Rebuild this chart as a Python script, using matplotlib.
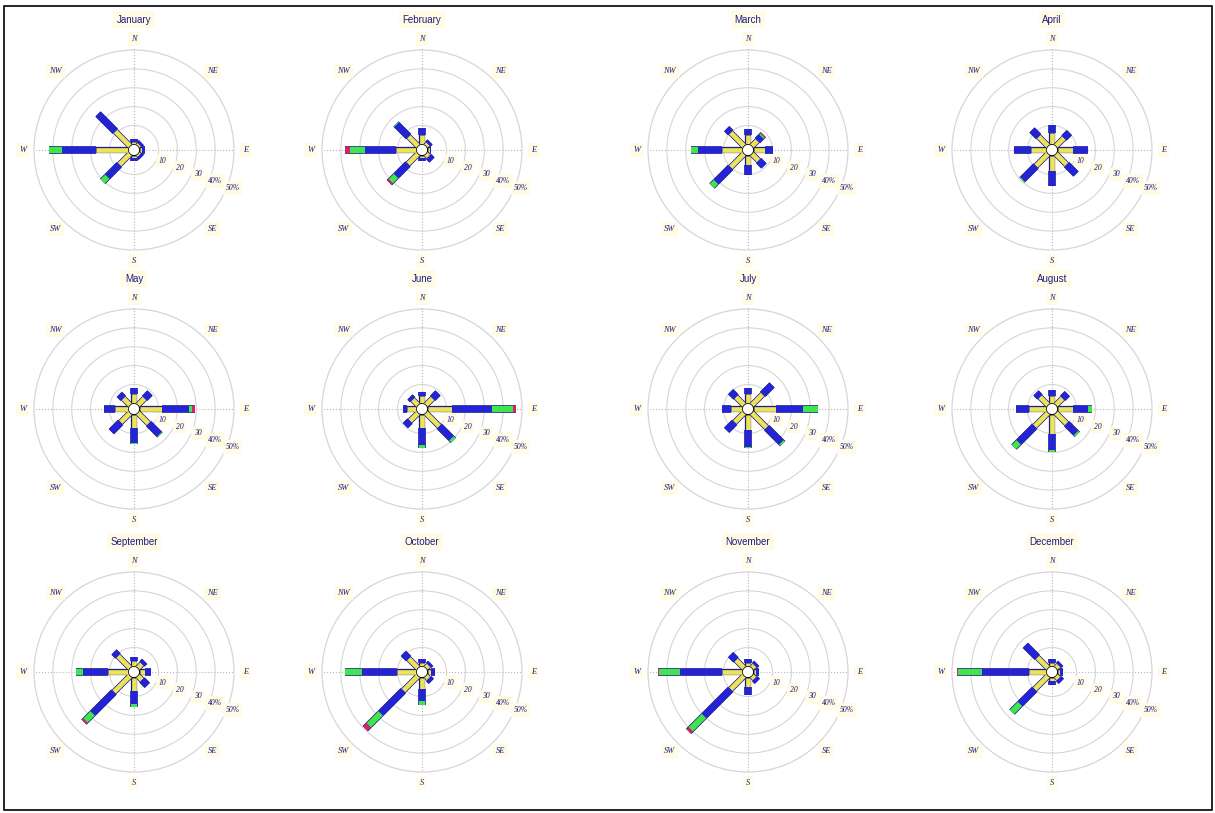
import numpy as np
import matplotlib.pyplot as plt
import matplotlib.patheffects as pe
from matplotlib.patches import Rectangle

months = ['January', 'February', 'March', 'April', 'May', 'June',
          'July', 'August', 'September', 'October', 'November', 'December']
dirs = ['N', 'NE', 'E', 'SE', 'S', 'SW', 'W', 'NW']
ring_vals = [10, 20, 30, 40, 50]
ring_labels = ['10', '20', '30', '40%', '50%']

# percent frequency per speed class, one row per month, columns follow dirs
spd1 = [
    [1.5, 1, 1, 1, 1, 8, 17, 11],
    [5, 1.5, 1, 2, 1, 7.5, 11, 7],
    [5, 4, 6, 5, 5, 10, 11, 10],
    [6, 6, 8, 8, 8, 9, 8, 7],
    [5, 5, 12, 8, 7, 7, 7, 5],
    [4, 5, 13, 10, 7, 6, 5, 4],
    [5, 8, 12, 11, 8, 7, 6, 6],
    [4, 5, 8, 8, 10, 10, 9, 6],
    [3, 3, 3, 3, 7, 12, 11, 9],
    [2, 2, 2, 2, 6, 11, 10, 7],
    [2, 2, 1.5, 2, 5, 10, 11, 6],
    [2, 2, 1.5, 2, 2, 10, 9, 8],
]
spd2 = [
    [1.5, 1.5, 2, 1.5, 2, 9, 18, 13],
    [3.5, 1.5, 1, 2.5, 2, 9, 16, 9],
    [3, 3, 4, 4, 5, 11, 12.5, 3],
    [4, 4, 8, 7, 8, 10, 9, 5],
    [3, 4, 14, 8, 8, 7, 6, 3],
    [2, 4, 21, 9, 9, 3.5, 2, 2],
    [3, 7, 14, 11, 9, 6, 5, 4],
    [3, 3.5, 8, 7, 8.5, 12, 7, 3],
    [2, 2, 3, 4, 7, 16, 13, 3],
    [2, 1.5, 2, 2, 6.5, 17, 19, 4],
    [2, 1.5, 1.5, 2, 4, 20, 22, 4],
    [2, 1.5, 1.5, 2, 2, 11, 25, 9],
]
spd3 = [
    [0, 0, 0, 0, 0, 3.5, 7, 0],
    [0, 0, 0, 0, 0, 4, 8, 0.5],
    [0, 1, 0, 0, 0, 3, 3.5, 0],
    [0, 0, 0, 0, 0, 0.5, 0, 0],
    [0, 0, 2, 0.5, 0.5, 0, 0, 0],
    [0, 0, 11, 1.5, 1.5, 0, 0, 0],
    [0, 0, 8, 1, 0.5, 0, 0, 0],
    [0, 0, 2, 1, 1.5, 3.5, 0, 0],
    [0, 0, 0, 0, 1.5, 5.5, 4, 0],
    [0, 0, 0, 0, 2, 9, 9, 0],
    [0, 0, 0, 0, 0, 10, 11, 0],
    [0, 0, 0, 0, 0, 6, 13, 0],
]
spd4 = [
    [0, 0, 0, 0, 0, 0, 0, 0],
    [0, 0, 0, 0, 0, 1, 3, 0],
    [0, 0.5, 0, 0, 0, 0, 0, 0],
    [0, 0, 0, 0, 0, 0, 0, 0],
    [0, 0, 1.5, 0, 0, 0, 0, 0],
    [0, 0, 2, 0, 0, 0, 0, 0],
    [0, 0, 0, 0, 0, 0, 0, 0],
    [0, 0, 0, 0, 0, 0, 0, 0],
    [0, 0, 0, 0, 0, 1, 0, 0],
    [0, 0, 0, 0, 0, 2.5, 0, 0],
    [0, 0, 0, 0, 0, 1.5, 0.5, 0],
    [0, 0, 0, 0, 0, 0, 0.5, 0],
]

class_colors = ['#ece35a', '#2323d8', '#3ee64a', '#e0205a']
navy = '#1c1c86'
grid_c = '#d6d6d6'

W, H = 1215, 813
fig = plt.figure(figsize=(W / 100, H / 100), dpi=100)
fig.patches.append(Rectangle((4 / W, 3 / H), 1 - 7 / W, 1 - 9 / H,
                             transform=fig.transFigure, fill=False,
                             ec='black', lw=1.2))

col_x = [134, 422, 748, 1052]
row_y = [150, 409, 672]
rad = 100
label_box = dict(boxstyle='square,pad=0.35', fc='#fffbe4', ec='none')

angles = np.deg2rad(np.arange(0, 360, 45))
classes = np.array([spd1, spd2, spd3, spd4])

for m, name in enumerate(months):
    cx = col_x[m % 4]
    cy = row_y[m // 4]
    ax = fig.add_axes([(cx - rad) / W, (H - cy - rad) / H, 2 * rad / W, 2 * rad / H],
                      projection='polar')
    ax.set_theta_zero_location('N')
    ax.set_theta_direction(-1)
    ax.set_ylim(0, 50)
    ax.set_rorigin(-3)
    ax.set_facecolor('none')
    ax.spines['polar'].set_color(grid_c)
    ax.spines['polar'].set_linewidth(0.9)
    ax.set_rgrids(ring_vals[:-1], labels=[''] * 4)
    ax.set_thetagrids([0, 90, 180, 270], labels=[''] * 4)
    ax.grid(True, color=grid_c, lw=0.8)
    for gl in ax.xaxis.get_gridlines():
        gl.set_linestyle(':')
        gl.set_color('#b8b8b8')

    # calm circle
    th = np.linspace(0, 2 * np.pi, 120)
    ax.plot(th, np.zeros_like(th), color=navy, lw=0.8, ls=':')

    # stacked petals
    for d, a in enumerate(angles):
        start = 0.0
        for k in range(4):
            v = classes[k, m, d]
            if v <= 0:
                continue
            lw = 3.4 if k == 0 else 4.4
            ax.plot([a, a], [start, start + v], color=class_colors[k], lw=lw,
                    solid_capstyle='butt', zorder=3 + k,
                    path_effects=[pe.Stroke(linewidth=lw + 1.1, foreground=navy),
                                  pe.Normal()])
            start += v

    for d, a in enumerate(angles):
        ax.text(a, 56, dirs[d], ha='center', va='center', fontsize=6,
                style='italic', family='Liberation Serif', color=navy,
                bbox=label_box, clip_on=False)
    ring_th = np.deg2rad(111)
    for v, lab in zip(ring_vals, ring_labels):
        ax.text(ring_th, v + 3, lab, ha='center', va='center', fontsize=5.5,
                style='italic', family='Liberation Serif', color=navy,
                bbox=label_box, clip_on=False, zorder=8)
    ax.text(0, 66, name, ha='center', va='center', fontsize=7,
            family='Liberation Sans', color=navy, bbox=label_box, clip_on=False)

fig.savefig('out.png', dpi=100)
